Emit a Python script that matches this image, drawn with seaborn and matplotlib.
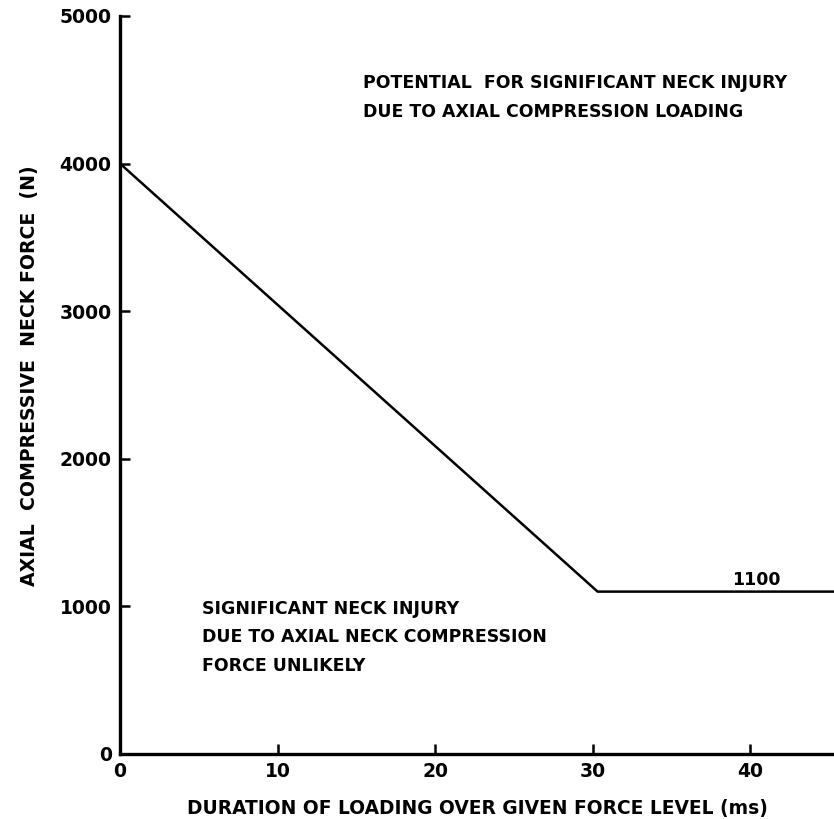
import matplotlib
matplotlib.use("Agg")
import matplotlib.pyplot as plt
import seaborn as sns

# ---------------------------------------------------------
# Data: neck axial compression tolerance curve
# ---------------------------------------------------------
duration_ms = [0, 30.3, 45.3]
force_n = [4000, 1100, 1100]

x_ticks = [0, 10, 20, 30, 40]
y_ticks = [0, 1000, 2000, 3000, 4000, 5000]

upper_note = "POTENTIAL  FOR SIGNIFICANT NECK INJURY\nDUE TO AXIAL COMPRESSION LOADING"
lower_note = "SIGNIFICANT NECK INJURY\nDUE TO AXIAL NECK COMPRESSION\nFORCE UNLIKELY"
level_label = "1100"

sns.set_style("ticks")
plt.rcParams["font.family"] = ["DejaVu Sans"]
plt.rcParams["text.color"] = "black"

fig = plt.figure(figsize=(8.34, 8.19), dpi=100)
ax = fig.add_axes([0.1439, 0.0794, 0.8561, 0.9011])

sns.lineplot(x=duration_ms, y=force_n, ax=ax, color="black", linewidth=1.8)

ax.set_xlim(0, 45.3)
ax.set_ylim(0, 5000)
ax.set_xticks(x_ticks)
ax.set_yticks(y_ticks)
ax.tick_params(direction="in", length=7, width=1.8, labelsize=13.5, pad=6,
               colors="black")
for lab in ax.get_xticklabels() + ax.get_yticklabels():
    lab.set_fontweight("bold")
for side in ["top", "right"]:
    ax.spines[side].set_visible(False)
for side in ["left", "bottom"]:
    ax.spines[side].set_linewidth(2.4)
    ax.spines[side].set_color("black")

ax.set_xlabel("DURATION OF LOADING OVER GIVEN FORCE LEVEL (ms)",
              fontsize=13.4, fontweight="bold", color="black", va="top")
ax.set_ylabel("AXIAL  COMPRESSIVE  NECK FORCE  (N)",
              fontsize=13.6, fontweight="bold", color="black")
ax.xaxis.set_label_coords(0.5, -0.061)
ax.yaxis.set_label_coords(-0.113, 0.512)

ax.text(15.4, 4605, upper_note, fontsize=12.5, fontweight="bold",
        va="top", ha="left", linespacing=1.75)
ax.text(5.2, 1045, lower_note, fontsize=12.5, fontweight="bold",
        va="top", ha="left", linespacing=1.75)
ax.text(40.4, 1180, level_label, fontsize=12.5, fontweight="bold",
        va="center", ha="center")

fig.savefig("out.png", dpi=100)
